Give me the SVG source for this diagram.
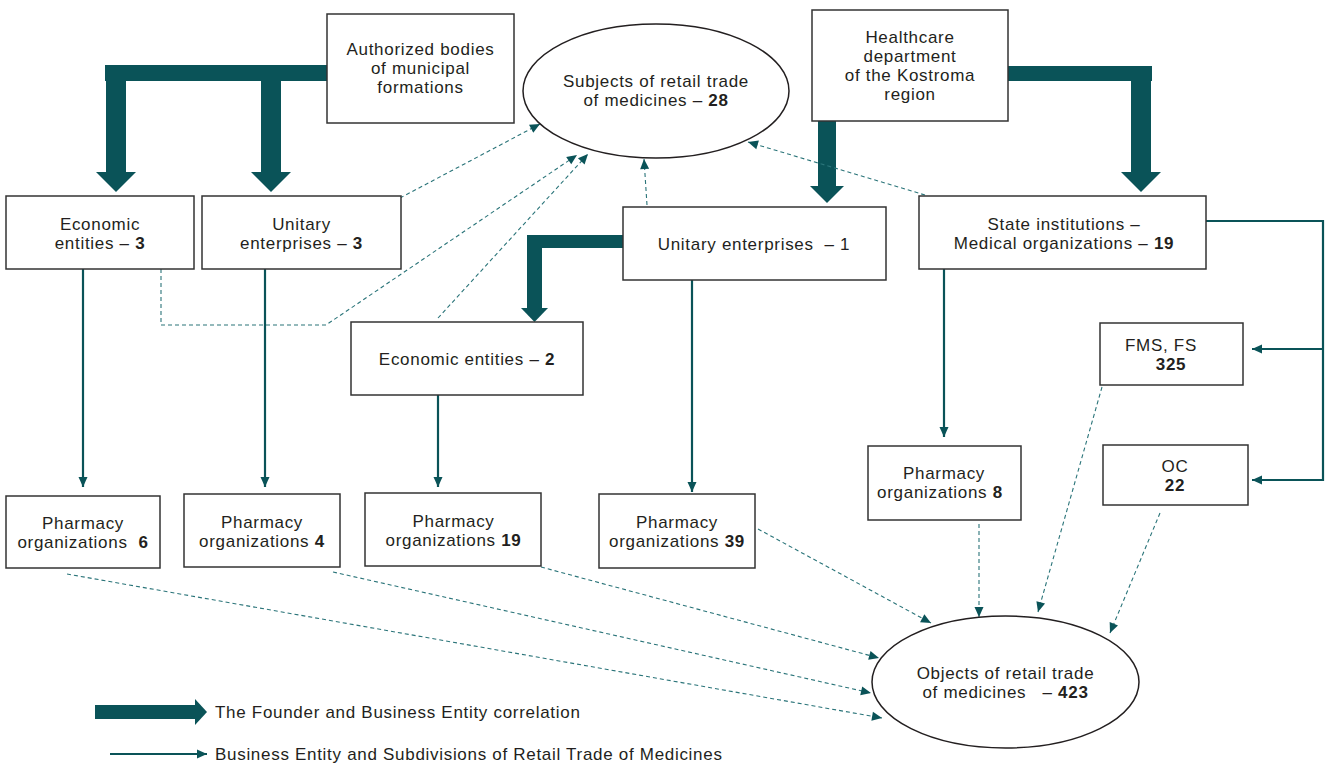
<svg xmlns="http://www.w3.org/2000/svg" width="1335" height="765" viewBox="0 0 1335 765">
<defs>
<style>
text{font-family:"Liberation Sans",Arial,sans-serif;font-size:17px;letter-spacing:0.7px;fill:#231f20;text-anchor:middle;white-space:pre}
.b{font-weight:bold}
.box{fill:#fff;stroke:#333;stroke-width:1.5}
.thick{fill:#0a5358}
.solid{fill:none;stroke:#0a5358;stroke-width:2.2}
.dash{fill:none;stroke:#2a7479;stroke-width:1.1;stroke-dasharray:4 3}
.lg{text-anchor:start}
</style>
<marker id="ah" viewBox="0 0 10 10" refX="10" refY="5" markerWidth="10" markerHeight="10" markerUnits="userSpaceOnUse" orient="auto">
<path d="M0,0.5 L10,5 L0,9.5 z" fill="#0a5358"/>
</marker>
<marker id="ad" viewBox="0 0 10 10" refX="10" refY="5" markerWidth="11" markerHeight="10" markerUnits="userSpaceOnUse" orient="auto">
<path d="M0,0.5 L10,5 L0,9.5 z" fill="#0a5358"/>
</marker>
</defs>
<rect width="1335" height="765" fill="#fff"/>

<g id="connectors">
<g class="thick">
<rect x="105" y="65" width="223" height="16"/>
<rect x="106" y="65" width="20" height="108"/>
<polygon points="96,172 136,172 116,192"/>
<rect x="261" y="65" width="20" height="108"/>
<polygon points="251,172 291,172 271,192"/>
<rect x="1008" y="66" width="144" height="15"/>
<rect x="1131" y="66" width="20" height="107"/>
<polygon points="1121,172 1161,172 1141,192"/>
<rect x="818" y="121" width="18" height="66"/>
<polygon points="810,186 844,186 827,203"/>
<rect x="527" y="235" width="97" height="13"/>
<rect x="527" y="235" width="15" height="74"/>
<polygon points="521,308 548,308 534.5,322"/>
</g>
<line class="solid" x1="83" y1="269" x2="83" y2="487" marker-end="url(#ah)"/>
<line class="solid" x1="265" y1="269" x2="265" y2="487" marker-end="url(#ah)"/>
<line class="solid" x1="438" y1="395" x2="438" y2="487" marker-end="url(#ah)"/>
<line class="solid" x1="692" y1="280" x2="692" y2="492" marker-end="url(#ah)"/>
<line class="solid" x1="944" y1="269" x2="944" y2="437" marker-end="url(#ah)"/>
<polyline class="solid" points="1206,221 1323,221 1323,480 1252,480" marker-end="url(#ah)"/>
<line class="solid" x1="1323" y1="349" x2="1252" y2="349" marker-end="url(#ah)"/>
<line class="dash" x1="400" y1="198" x2="540" y2="124" marker-end="url(#ad)"/>
<polyline class="dash" points="161,269 161,325 326,325 577,155" marker-end="url(#ad)"/>
<line class="dash" x1="438" y1="318" x2="588" y2="154" marker-end="url(#ad)"/>
<line class="dash" x1="647" y1="205" x2="644" y2="159" marker-end="url(#ad)"/>
<line class="dash" x1="925" y1="195" x2="748" y2="142" marker-end="url(#ad)"/>
<line class="dash" x1="67" y1="574" x2="882" y2="718" marker-end="url(#ad)"/>
<line class="dash" x1="333" y1="572" x2="871" y2="693" marker-end="url(#ad)"/>
<line class="dash" x1="541" y1="567" x2="879" y2="658" marker-end="url(#ad)"/>
<line class="dash" x1="758" y1="529" x2="931" y2="623" marker-end="url(#ad)"/>
<line class="dash" x1="979" y1="524" x2="979" y2="617" marker-end="url(#ad)"/>
<line class="dash" x1="1102" y1="387" x2="1038" y2="612" marker-end="url(#ad)"/>
<line class="dash" x1="1160" y1="513" x2="1110" y2="633" marker-end="url(#ad)"/>
</g>

<g id="authorized">
<rect class="box" x="327" y="14" width="187" height="109"/>
<text x="420.5" y="55">Authorized bodies</text>
<text x="420.5" y="74">of municipal</text>
<text x="420.5" y="93">formations</text>
</g>

<g id="subjects">
<ellipse cx="656" cy="91" rx="133" ry="67" fill="#fff" stroke="#231f20" stroke-width="1.5"/>
<text x="656" y="87">Subjects of retail trade</text>
<text x="656" y="106">of medicines – <tspan class="b">28</tspan></text>
</g>

<g id="healthcare">
<rect class="box" x="812" y="10" width="196" height="111"/>
<text x="910" y="42.5">Healthcare</text>
<text x="910" y="61.5">department</text>
<text x="910" y="80.5">of the Kostroma</text>
<text x="910" y="99.5">region</text>
</g>

<g id="econ3">
<rect class="box" x="6" y="196" width="188" height="73"/>
<text x="100" y="229.5">Economic</text>
<text x="100" y="248.5">entities – <tspan class="b">3</tspan></text>
</g>

<g id="unit3">
<rect class="box" x="202" y="196" width="199" height="73"/>
<text x="301.5" y="229.5">Unitary</text>
<text x="301.5" y="248.5">enterprises – <tspan class="b">3</tspan></text>
</g>

<g id="unit1">
<rect class="box" x="623" y="207" width="263" height="73"/>
<text x="754" y="250">Unitary enterprises  – 1</text>
</g>

<g id="state">
<rect class="box" x="919" y="196" width="287" height="73"/>
<text x="1064" y="229.5">State institutions –</text>
<text x="1064" y="248.5">Medical organizations – <tspan class="b">19</tspan></text>
</g>

<g id="econ2">
<rect class="box" x="351" y="322" width="232" height="73"/>
<text x="467" y="365">Economic entities – <tspan class="b">2</tspan></text>
</g>

<g id="fms">
<rect class="box" x="1100" y="323" width="143" height="62"/>
<text x="1125" y="350.5" class="lg">FMS, FS</text>
<text x="1171" y="369.5" class="b">325</text>
</g>

<g id="oc">
<rect class="box" x="1103" y="445" width="145" height="60"/>
<text x="1175" y="472">OC</text>
<text x="1175" y="491" class="b">22</text>
</g>

<g id="pharm8">
<rect class="box" x="868" y="446" width="153" height="74"/>
<text x="944" y="479">Pharmacy</text>
<text x="940" y="498">organizations <tspan class="b">8</tspan></text>
</g>

<g id="pharm6">
<rect class="box" x="6" y="496" width="154" height="72"/>
<text x="83" y="528.5">Pharmacy</text>
<text x="83" y="547.5">organizations  <tspan class="b">6</tspan></text>
</g>

<g id="pharm4">
<rect class="box" x="184" y="494" width="156" height="73"/>
<text x="262" y="527.5">Pharmacy</text>
<text x="262" y="546.5">organizations <tspan class="b">4</tspan></text>
</g>

<g id="pharm19">
<rect class="box" x="365" y="493" width="176" height="73"/>
<text x="453.5" y="526.5">Pharmacy</text>
<text x="453.5" y="545.5">organizations <tspan class="b">19</tspan></text>
</g>

<g id="pharm39">
<rect class="box" x="599" y="494" width="156" height="74"/>
<text x="677" y="527.5">Pharmacy</text>
<text x="677" y="546.5">organizations <tspan class="b">39</tspan></text>
</g>

<g id="objects">
<ellipse cx="1005.5" cy="682" rx="133.5" ry="66" fill="#fff" stroke="#231f20" stroke-width="1.5"/>
<text x="1005.5" y="679">Objects of retail trade</text>
<text x="1005.5" y="698">of medicines   – <tspan class="b">423</tspan></text>
</g>

<g id="legend">
<rect class="thick" x="95" y="705" width="101" height="14"/>
<polygon class="thick" points="195,699 207,712 195,725"/>
<text x="215" y="718" class="lg">The Founder and Business Entity correlation</text>
<line class="solid" x1="110" y1="754" x2="207" y2="754" marker-end="url(#ah)"/>
<text x="215" y="760" class="lg">Business Entity and Subdivisions of Retail Trade of Medicines</text>
</g>
</svg>
